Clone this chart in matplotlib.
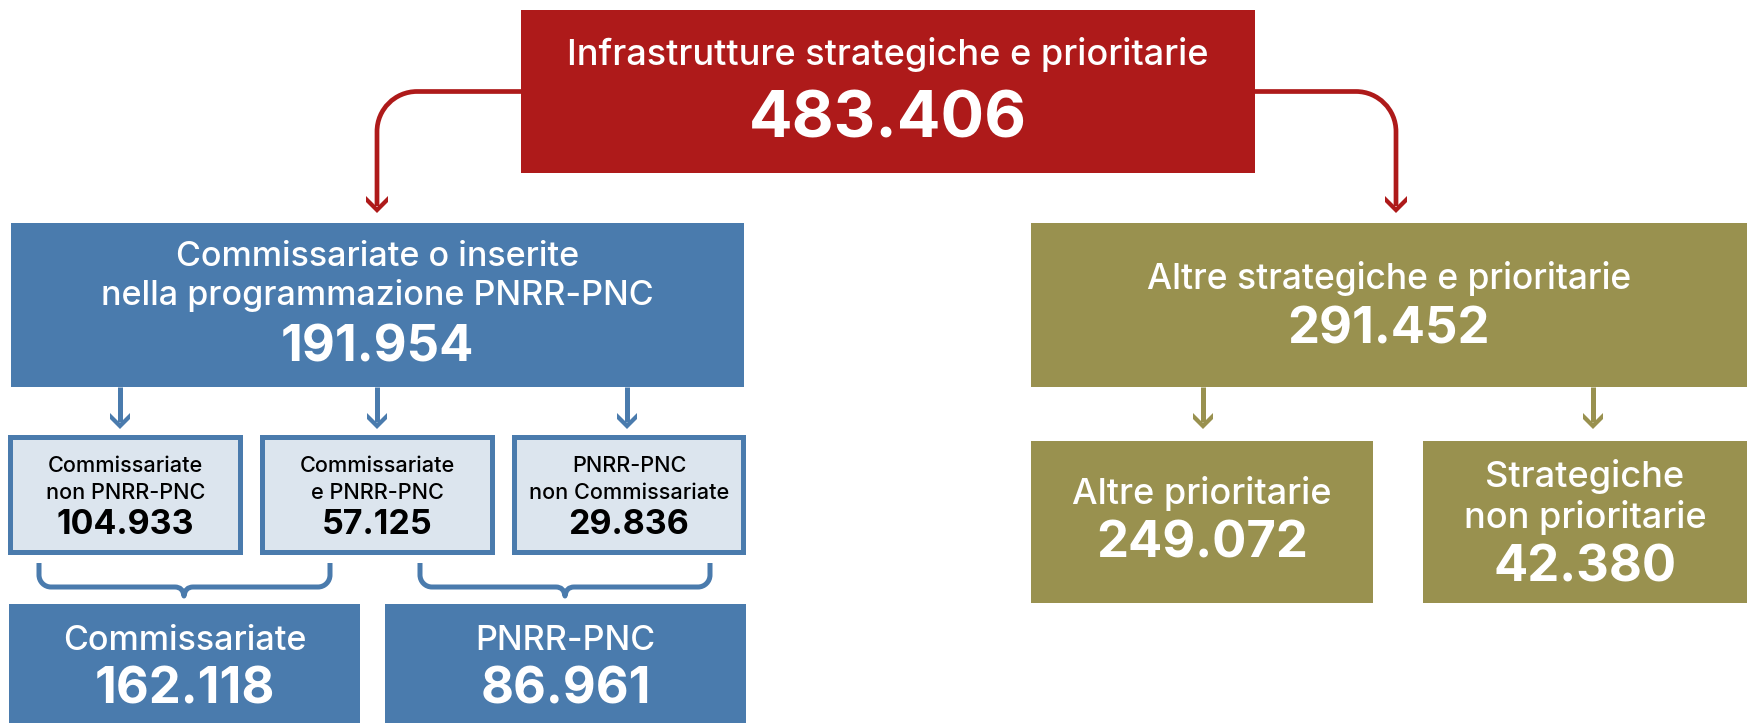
"""
Infrastrutture strategiche e prioritarie -- breakdown diagram (box + arrow tree).
"""
import matplotlib
matplotlib.use("Agg")
import matplotlib.pyplot as plt
from matplotlib.patches import Rectangle, Polygon, PathPatch
from matplotlib.path import Path

# ---- data -------------------------------------------------------------------
root_label = "Infrastrutture strategiche e prioritarie"
root_value = 483406

branch_labels = ["Commissariate o inserite\nnella programmazione PNRR-PNC",
                 "Altre strategiche e prioritarie"]
branch_values = [191954, 291452]

blue_detail_labels = ["Commissariate\nnon PNRR-PNC",
                      "Commissariate\ne PNRR-PNC",
                      "PNRR-PNC\nnon Commissariate"]
blue_detail_values = [104933, 57125, 29836]

blue_group_labels = ["Commissariate", "PNRR-PNC"]
blue_group_values = [162118, 86961]

olive_detail_labels = ["Altre prioritarie", "Strategiche\nnon prioritarie"]
olive_detail_values = [249072, 42380]

# ---- style / layout (pixel coordinates, y grows downward) -------------------
W, H = 1747, 723
RED = "#AE1A1A"
BLUE = "#4A7BAD"
OLIVE = "#99914F"
PALE = "#DCE5EE"
FONT = ["Inter", "Lato", "DejaVu Sans"]
PX = 0.72  # points per pixel at dpi=100

ROOT_BOX = (521, 10, 1255, 173)
BRANCH_BOXES = [(11, 223, 744, 387), (1031, 223, 1747, 387)]
BLUE_DETAIL_BOXES = [(8, 435, 243, 555), (260, 435, 495, 555), (512, 435, 746, 555)]
BLUE_GROUP_BOXES = [(9, 604, 360, 723), (385, 604, 746, 723)]
OLIVE_DETAIL_BOXES = [(1031, 441, 1373, 603), (1423, 441, 1747, 603)]


def fmt(v):
    return f"{v:,}".replace(",", ".")


def box(ax, rect, face, edge=None, border=0):
    x0, y0, x1, y1 = rect
    if edge is None:
        ax.add_patch(Rectangle((x0, y0), x1 - x0, y1 - y0, facecolor=face, edgecolor="none"))
        return
    ax.add_patch(Rectangle((x0, y0), x1 - x0, y1 - y0, facecolor=edge, edgecolor="none"))
    ax.add_patch(Rectangle((x0 + border, y0 + border), x1 - x0 - 2 * border,
                           y1 - y0 - 2 * border, facecolor=face, edgecolor="none"))


def lines(ax, cx, label, value, baselines, size_lbl, size_val, color,
          weight_lbl="medium"):
    parts = label.split("\n")
    for txt, yb in zip(parts, baselines[:-1]):
        ax.text(cx, yb, txt, ha="center", va="baseline", fontsize=size_lbl,
                color=color, family=FONT, fontweight=weight_lbl)
    ax.text(cx, baselines[-1], fmt(value), ha="center", va="baseline",
            fontsize=size_val, color=color, family=FONT, fontweight="bold")


def arrow_head(ax, x, tip, color, half=10, h=16, t=6):
    pts = [(x - half, tip - h), (x - half, tip - half), (x, tip),
           (x + half, tip - half), (x + half, tip - h), (x, tip - t)]
    ax.add_patch(Polygon(pts, closed=True, facecolor=color, edgecolor="none"))


def arrow_down(ax, x, y0, tip, color, lw_px=5):
    ax.plot([x, x], [y0, tip - 7], color=color, lw=lw_px * PX, solid_capstyle="butt")
    arrow_head(ax, x, tip, color)


def elbow(ax, x_start, y, x_end, tip, color, r=40, lw_px=4.7):
    # horizontal from box side, rounded corner, then down to arrow tip
    s = 1 if x_end > x_start else -1
    k = 0.5523 * r
    verts = [(x_start, y), (x_end - s * r, y),
             (x_end - s * r + s * k, y), (x_end, y + r - k), (x_end, y + r),
             (x_end, tip - 7)]
    codes = [Path.MOVETO, Path.LINETO, Path.CURVE4, Path.CURVE4, Path.CURVE4, Path.LINETO]
    ax.add_patch(PathPatch(Path(verts, codes), facecolor="none", edgecolor=color,
                           lw=lw_px * PX, capstyle="butt"))
    arrow_head(ax, x_end, tip, color, half=11, h=17)


def brace(ax, x0, x1, tip_x, top, hy, tip_y, color, r=12, lw_px=5):
    k = 0.5523 * r
    verts = [(x0, top), (x0, hy - r),
             (x0, hy - r + k), (x0 + r - k, hy), (x0 + r, hy),
             (tip_x - 9, hy),
             (tip_x - 1, hy), (tip_x, tip_y),
             (tip_x + 1, hy), (tip_x + 9, hy),
             (x1 - r, hy),
             (x1 - r + k, hy), (x1, hy - r + k), (x1, hy - r),
             (x1, top)]
    codes = [Path.MOVETO, Path.LINETO,
             Path.CURVE4, Path.CURVE4, Path.CURVE4,
             Path.LINETO,
             Path.CURVE3, Path.CURVE3,
             Path.CURVE3, Path.CURVE3,
             Path.LINETO,
             Path.CURVE4, Path.CURVE4, Path.CURVE4,
             Path.LINETO]
    ax.add_patch(PathPatch(Path(verts, codes), facecolor="none", edgecolor=color,
                           lw=lw_px * PX, capstyle="butt", joinstyle="round"))


fig = plt.figure(figsize=(W / 100, H / 100), dpi=100)
ax = fig.add_axes([0, 0, 1, 1])
ax.set_xlim(0, W)
ax.set_ylim(H, 0)
ax.axis("off")

# ---- connectors --------------------------------------------------------------
elbow(ax, ROOT_BOX[0], 91.5, 377, 213, RED)
elbow(ax, ROOT_BOX[2], 91.5, 1396, 213, RED)
for x in (120, 377, 627):
    arrow_down(ax, x, BRANCH_BOXES[0][3], 429, BLUE)
for x in (1203, 1593):
    arrow_down(ax, x, BRANCH_BOXES[1][3], 429, OLIVE)
brace(ax, 39, 330, 184, 563, 587, 596, BLUE)
brace(ax, 420, 710, 565, 563, 587, 596, BLUE)

# ---- boxes -------------------------------------------------------------------
box(ax, ROOT_BOX, RED)
cx = (ROOT_BOX[0] + ROOT_BOX[2]) / 2
lines(ax, cx, root_label, root_value, [65, 138], 26, 46.5, "white")

box(ax, BRANCH_BOXES[0], BLUE)
box(ax, BRANCH_BOXES[1], OLIVE)
branch_baselines = [[266, 305, 361], [289, 344]]
branch_sizes = [24.5, 25.5]
for rect, lab, val, bl, sz in zip(BRANCH_BOXES, branch_labels, branch_values,
                                  branch_baselines, branch_sizes):
    lines(ax, (rect[0] + rect[2]) / 2, lab, val, bl, sz, 36.5, "white")

for rect, lab, val in zip(BLUE_DETAIL_BOXES, blue_detail_labels, blue_detail_values):
    box(ax, rect, PALE, edge=BLUE, border=5)
    lines(ax, (rect[0] + rect[2]) / 2, lab, val, [472, 499, 534], 15.6, 24.5, "black")

for rect, lab, val in zip(BLUE_GROUP_BOXES, blue_group_labels, blue_group_values):
    box(ax, rect, BLUE)
    lines(ax, (rect[0] + rect[2]) / 2, lab, val, [650, 704], 24.5, 36.5, "white")

olive_baselines = [[504, 558], [487, 528, 582]]
for rect, lab, val, bl in zip(OLIVE_DETAIL_BOXES, olive_detail_labels, olive_detail_values,
                              olive_baselines):
    box(ax, rect, OLIVE)
    lines(ax, (rect[0] + rect[2]) / 2, lab, val, bl, 26, 36.5, "white")

fig.savefig("out.png", dpi=100, facecolor="white")
